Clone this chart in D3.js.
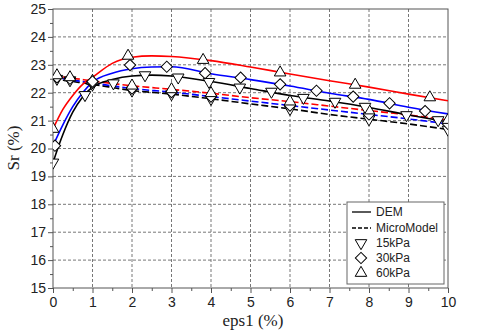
<!DOCTYPE html>
<html>
<head>
<meta charset="utf-8">
<script src="https://cdn.jsdelivr.net/npm/d3@7"></script>
<style>
  body { margin: 0; background: #fff; }
  svg { display: block; }
</style>
</head>
<body>
<div id="chart"></div>
<script>
var width = 491, height = 334;
var plotLeft = 53, plotRight = 448, plotTop = 9, plotBottom = 288;

// DEM curves (solid)
var demX   = [0, 0.25, 0.5, 0.75, 1, 1.5, 2, 2.5, 3, 4, 5, 6, 7, 8, 9, 10];
var dem15  = [19.5, 20.5, 21.3, 21.85, 22.2, 22.47, 22.6, 22.63, 22.6, 22.4, 22.15, 21.9, 21.7, 21.47, 21.2, 20.95];
var dem30  = [20.1, 20.85, 21.5, 22.0, 22.38, 22.7, 22.86, 22.92, 22.93, 22.68, 22.47, 22.24, 21.98, 21.76, 21.48, 21.24];
var dem60  = [20.7, 21.4, 21.9, 22.3, 22.55, 23.05, 23.27, 23.32, 23.3, 23.15, 22.92, 22.67, 22.43, 22.2, 21.95, 21.71];

// MicroModel curves (dashed)
var microX  = [0, 0.5, 1, 2, 3, 4, 5, 6, 7, 8, 9, 10];
var micro15 = [22.5, 22.4, 22.3, 22.08, 21.95, 21.78, 21.6, 21.42, 21.22, 21.05, 20.88, 20.68];
var micro30 = [22.55, 22.45, 22.35, 22.15, 22.02, 21.86, 21.7, 21.54, 21.38, 21.22, 21.06, 20.88];
var micro60 = [22.6, 22.52, 22.42, 22.25, 22.12, 21.98, 21.82, 21.68, 21.52, 21.36, 21.2, 21.02];

// markers on DEM curves
var demMark15X = [0, 0.81, 1.53, 2.33, 3.17, 3.95, 4.73, 5.53, 6.34, 7.14, 7.9, 8.95, 9.75];
var demMark15Y = [19.5, 21.92, 22.34, 22.63, 22.55, 22.39, 22.19, 22.04, 21.82, 21.68, 21.5, 21.2, 21.02];
var demMark30X = [0.05, 1.0, 1.95, 2.88, 3.85, 4.75, 5.75, 6.67, 7.6, 8.52, 9.42];
var demMark30Y = [20.1, 22.4, 22.99, 22.93, 22.7, 22.54, 22.3, 22.07, 21.86, 21.62, 21.34];
var demMark60X = [0, 1.9, 3.8, 5.75, 7.65, 9.54];
var demMark60Y = [20.7, 23.32, 23.17, 22.72, 22.28, 21.83];

// markers on MicroModel curves
var microMarkX  = [0.1, 0.43, 1.0, 2.0, 3.0, 4.0, 6.0, 8.0, 10.0];
var microMark15 = [22.5, 22.45, 22.3, 22.08, 21.95, 21.78, 21.42, 21.05, 20.68];
var microMark30 = [22.55, 22.5, 22.35, 22.15, 22.02, 21.86, 21.54, 21.22, 20.88];
var microMark60 = [22.62, 22.55, 22.42, 22.25, 22.12, 21.98, 21.68, 21.36, 21.02];

var xTicks = [0, 1, 2, 3, 4, 5, 6, 7, 8, 9, 10];
var yTicks = [15, 16, 17, 18, 19, 20, 21, 22, 23, 24, 25];
var legendLabels = ["DEM", "MicroModel", "15kPa", "30kPa", "60kPa"];

var x = d3.scaleLinear().domain([0, 10]).range([plotLeft, plotRight]);
var y = d3.scaleLinear().domain([15, 25]).range([plotBottom, plotTop]);

var svg = d3.select("#chart").append("svg")
    .attr("width", width)
    .attr("height", height);

svg.append("defs").append("clipPath")
    .attr("id", "plotclip")
    .append("rect")
    .attr("x", plotLeft).attr("y", plotTop)
    .attr("width", plotRight - plotLeft).attr("height", plotBottom - plotTop);

// grid
var grid = svg.append("g");
grid.selectAll(".gx").data(xTicks.slice(1, -1)).enter().append("line")
    .attr("x1", function (d) { return x(d); })
    .attr("x2", function (d) { return x(d); })
    .attr("y1", plotTop).attr("y2", plotBottom)
    .style("stroke", "#777").style("stroke-width", 1)
    .style("stroke-dasharray", "3,2");
grid.selectAll(".gy").data(yTicks.slice(1, -1)).enter().append("line")
    .attr("y1", function (d) { return y(d); })
    .attr("y2", function (d) { return y(d); })
    .attr("x1", plotLeft).attr("x2", plotRight)
    .style("stroke", "#777").style("stroke-width", 1)
    .style("stroke-dasharray", "3,2");

// axes
var xAxis = svg.append("g")
    .attr("transform", "translate(0," + plotBottom + ")")
    .call(d3.axisBottom(x).tickValues(xTicks).tickSize(5).tickPadding(4).tickFormat(d3.format("d")));
var xMinor = svg.append("g")
    .attr("transform", "translate(0," + plotBottom + ")")
    .call(d3.axisBottom(x).tickValues(d3.range(0.5, 10, 1)).tickSize(3).tickFormat(""));
var yAxis = svg.append("g")
    .attr("transform", "translate(" + plotLeft + ",0)")
    .call(d3.axisLeft(y).tickValues(yTicks).tickSize(5).tickPadding(2).tickFormat(d3.format("d")));
var yMinor = svg.append("g")
    .attr("transform", "translate(" + plotLeft + ",0)")
    .call(d3.axisLeft(y).tickValues(d3.range(15.5, 25, 1)).tickSize(3).tickFormat(""));

[xAxis, xMinor, yAxis, yMinor].forEach(function (g) {
    g.select(".domain").remove();
    g.selectAll("line").style("stroke", "#555");
    g.selectAll("text")
        .style("font-family", "'Liberation Sans', Arial, sans-serif")
        .style("font-size", "14px")
        .style("fill", "#222");
});

// frame
svg.append("rect")
    .attr("x", plotLeft).attr("y", plotTop)
    .attr("width", plotRight - plotLeft).attr("height", plotBottom - plotTop)
    .style("fill", "none").style("stroke", "#555").style("stroke-width", 1);

// curves
var plot = svg.append("g").attr("clip-path", "url(#plotclip)");

var line = d3.line()
    .x(function (d) { return x(d[0]); })
    .y(function (d) { return y(d[1]); })
    .curve(d3.curveMonotoneX);

function zip(a, b) {
    return a.map(function (v, i) { return [v, b[i]]; });
}

var curves = [
    { xs: microX, ys: micro15, color: "black", dash: "7,3" },
    { xs: microX, ys: micro30, color: "blue", dash: "7,3" },
    { xs: microX, ys: micro60, color: "red", dash: "7,3" },
    { xs: demX, ys: dem15, color: "black", dash: null },
    { xs: demX, ys: dem30, color: "blue", dash: null },
    { xs: demX, ys: dem60, color: "red", dash: null }
];

curves.forEach(function (c) {
    plot.append("path")
        .datum(zip(c.xs, c.ys))
        .attr("d", line)
        .style("fill", "none")
        .style("stroke", c.color)
        .style("stroke-width", 1.6)
        .style("stroke-dasharray", c.dash);
});

// markers
var triUp = d3.symbol().type(d3.symbolTriangle).size(58);
var diamond = d3.symbol().type(d3.symbolSquare).size(64);

function markerPath(kind) {
    return kind === "diamond" ? diamond() : triUp();
}
function markerRot(kind) {
    if (kind === "down") return " rotate(180)";
    if (kind === "diamond") return " rotate(45)";
    return "";
}

var markerSets = [
    { xs: microMarkX, ys: microMark15, kind: "down" },
    { xs: microMarkX, ys: microMark30, kind: "diamond" },
    { xs: microMarkX, ys: microMark60, kind: "up" },
    { xs: demMark15X, ys: demMark15Y, kind: "down" },
    { xs: demMark30X, ys: demMark30Y, kind: "diamond" },
    { xs: demMark60X, ys: demMark60Y, kind: "up" }
];

markerSets.forEach(function (m) {
    plot.selectAll(null)
        .data(zip(m.xs, m.ys))
        .enter()
        .append("path")
        .attr("d", markerPath(m.kind))
        .attr("transform", function (d) {
            return "translate(" + x(d[0]) + "," + y(d[1]) + ")" + markerRot(m.kind);
        })
        .style("fill", "white")
        .style("stroke", "black")
        .style("stroke-width", 1);
});

// axis titles
svg.append("text")
    .attr("x", 253).attr("y", 326)
    .attr("text-anchor", "middle")
    .style("font-family", "'Liberation Serif', 'Times New Roman', serif")
    .style("font-size", "17px")
    .style("fill", "#222")
    .text("eps1 (%)");

svg.append("text")
    .attr("transform", "translate(19,148) rotate(-90)")
    .attr("text-anchor", "middle")
    .style("font-family", "'Liberation Serif', 'Times New Roman', serif")
    .style("font-size", "17px")
    .style("fill", "#222")
    .text("Sr (%)");

// legend
var legend = svg.append("g");
legend.append("rect")
    .attr("x", 347).attr("y", 202)
    .attr("width", 97).attr("height", 82)
    .style("fill", "white").style("stroke", "#666").style("stroke-width", 1);

var legendRows = [212, 228, 243, 258, 273];
legendLabels.forEach(function (lab, i) {
    var ly = legendRows[i];
    if (i < 2) {
        legend.append("line")
            .attr("x1", 352).attr("x2", 371)
            .attr("y1", ly).attr("y2", ly)
            .style("stroke", "black").style("stroke-width", 1.3)
            .style("stroke-dasharray", i === 1 ? "4,2" : null);
    } else {
        var kind = ["down", "diamond", "up"][i - 2];
        legend.append("path")
            .attr("d", markerPath(kind))
            .attr("transform", "translate(361," + ly + ")" + markerRot(kind))
            .style("fill", "white").style("stroke", "black").style("stroke-width", 1);
    }
    legend.append("text")
        .attr("x", 376).attr("y", ly + 4)
        .style("font-family", "'Liberation Sans', Arial, sans-serif")
        .style("font-size", "12px")
        .style("fill", "#222")
        .text(lab);
});
</script>
</body>
</html>
